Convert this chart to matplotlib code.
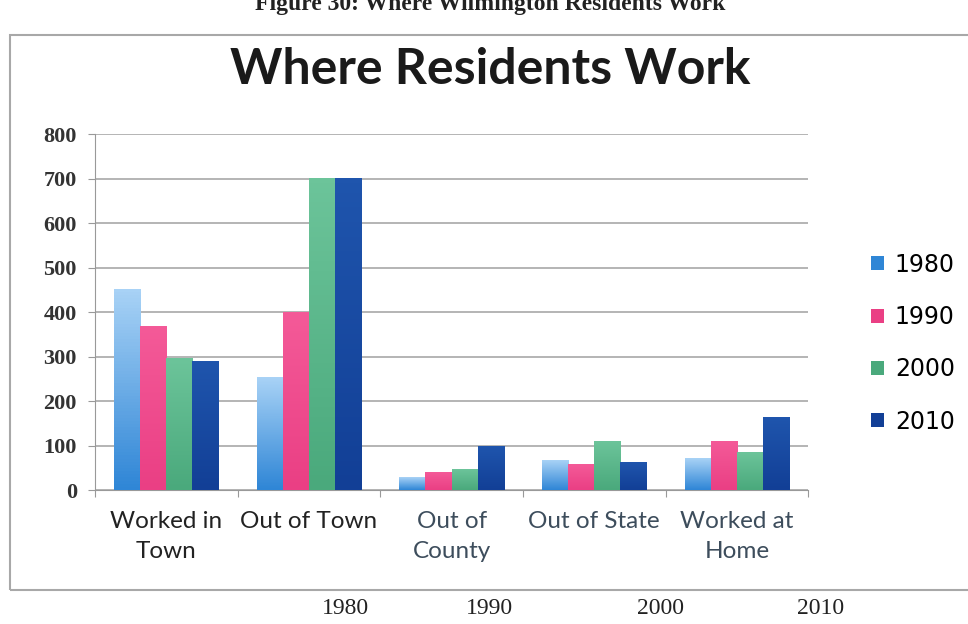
import numpy as np
import matplotlib.pyplot as plt
from matplotlib.patches import Rectangle, Patch
from matplotlib.colors import LinearSegmentedColormap

categories = ["Worked in\nTown", "Out of Town", "Out of\nCounty", "Out of State", "Worked at\nHome"]
years = ["1980", "1990", "2000", "2010"]
v1980 = [450, 252, 27, 67, 70]
v1990 = [367, 398, 40, 58, 110]
v2000 = [296, 700, 46, 108, 84]
v2010 = [288, 700, 98, 61, 163]
yticks = [0, 100, 200, 300, 400, 500, 600, 700, 800]

series = [v1980, v1990, v2000, v2010]
# (top colour, bottom colour) for the gradient fill
shades = [("#a8d2f6", "#2f86d6"), ("#f45a98", "#ea3f84"),
          ("#6cc49a", "#4aa97c"), ("#1f55ad", "#123f96")]
label_colors = ["#222222", "#222222", "#3d4d5c", "#3d4d5c", "#3d4d5c"]

fig = plt.figure(figsize=(9.68, 6.24), dpi=100)
ax = fig.add_axes([0.098, 0.2147, 0.737, 0.5705])

n = len(categories)
x = np.arange(n)
w = 0.183
handles = []
for i, vals in enumerate(series):
    cmap = LinearSegmentedColormap.from_list("g%d" % i, [shades[i][1], shades[i][0]])
    grad = np.linspace(0, 1, 64).reshape(-1, 1)
    for j, v in enumerate(vals):
        left = x[j] - 2 * w + i * w
        ax.imshow(grad, cmap=cmap, origin="lower", aspect="auto",
                  extent=[left, left + w, 0, v], zorder=3)
    handles.append(Patch(facecolor=shades[i][1], edgecolor="none", label=years[i]))

ax.set_xlim(-0.5, n - 0.5)
ax.set_ylim(0, 800)
ax.set_yticks(yticks)
ax.set_yticklabels([str(t) for t in yticks], fontfamily="Liberation Serif",
                   fontweight="bold", fontsize=16, color="#333333")
ax.tick_params(axis="y", length=5, color="#999999", pad=8)
ax.yaxis.grid(True, color="#a0a0a0", linewidth=1.1, zorder=0)
ax.set_axisbelow(True)
ax.set_xticks(np.arange(-0.5, n, 1.0))
ax.set_xticklabels([])
ax.tick_params(axis="x", length=5, color="#999999")
for j, c in enumerate(categories):
    ax.text(x[j], -0.06, c, transform=ax.get_xaxis_transform(), ha="center", va="top",
            fontsize=17.5, fontfamily="Lato", color=label_colors[j], linespacing=1.5)

for s in ["top", "right"]:
    ax.spines[s].set_visible(False)
for s in ["left", "bottom"]:
    ax.spines[s].set_color("#999999")

fig.legend(handles=handles, loc="center left", bbox_to_anchor=(0.878, 0.45),
           frameon=False, handlelength=0.55, handleheight=0.55,
           labelspacing=1.2, handletextpad=0.45,
           prop={"family": "DejaVu Sans", "size": 17})

fig.text(0.506, 0.888, "Where Residents Work", ha="center", va="center",
         fontsize=36, fontweight="bold", fontfamily="Lato", color="#1a1a1a")

# outer chart frame and surrounding document text
fig.add_artist(Rectangle((0.0103, 0.0545), 1.2, 0.89, transform=fig.transFigure,
                         fill=False, edgecolor="#a8a8a8", linewidth=1.5))
fig.text(0.506, 0.993, "Figure 30: Where Wilmington Residents Work", ha="center", va="center",
         fontsize=17, fontweight="bold", fontfamily="Liberation Serif", color="#222222")
for yr, xp in zip(years, [0.357, 0.506, 0.682, 0.848]):
    fig.text(xp, 0.025, yr, ha="center", va="center", fontsize=17,
             fontfamily="Liberation Serif", color="#222222")

fig.savefig("out.png", dpi=100)
